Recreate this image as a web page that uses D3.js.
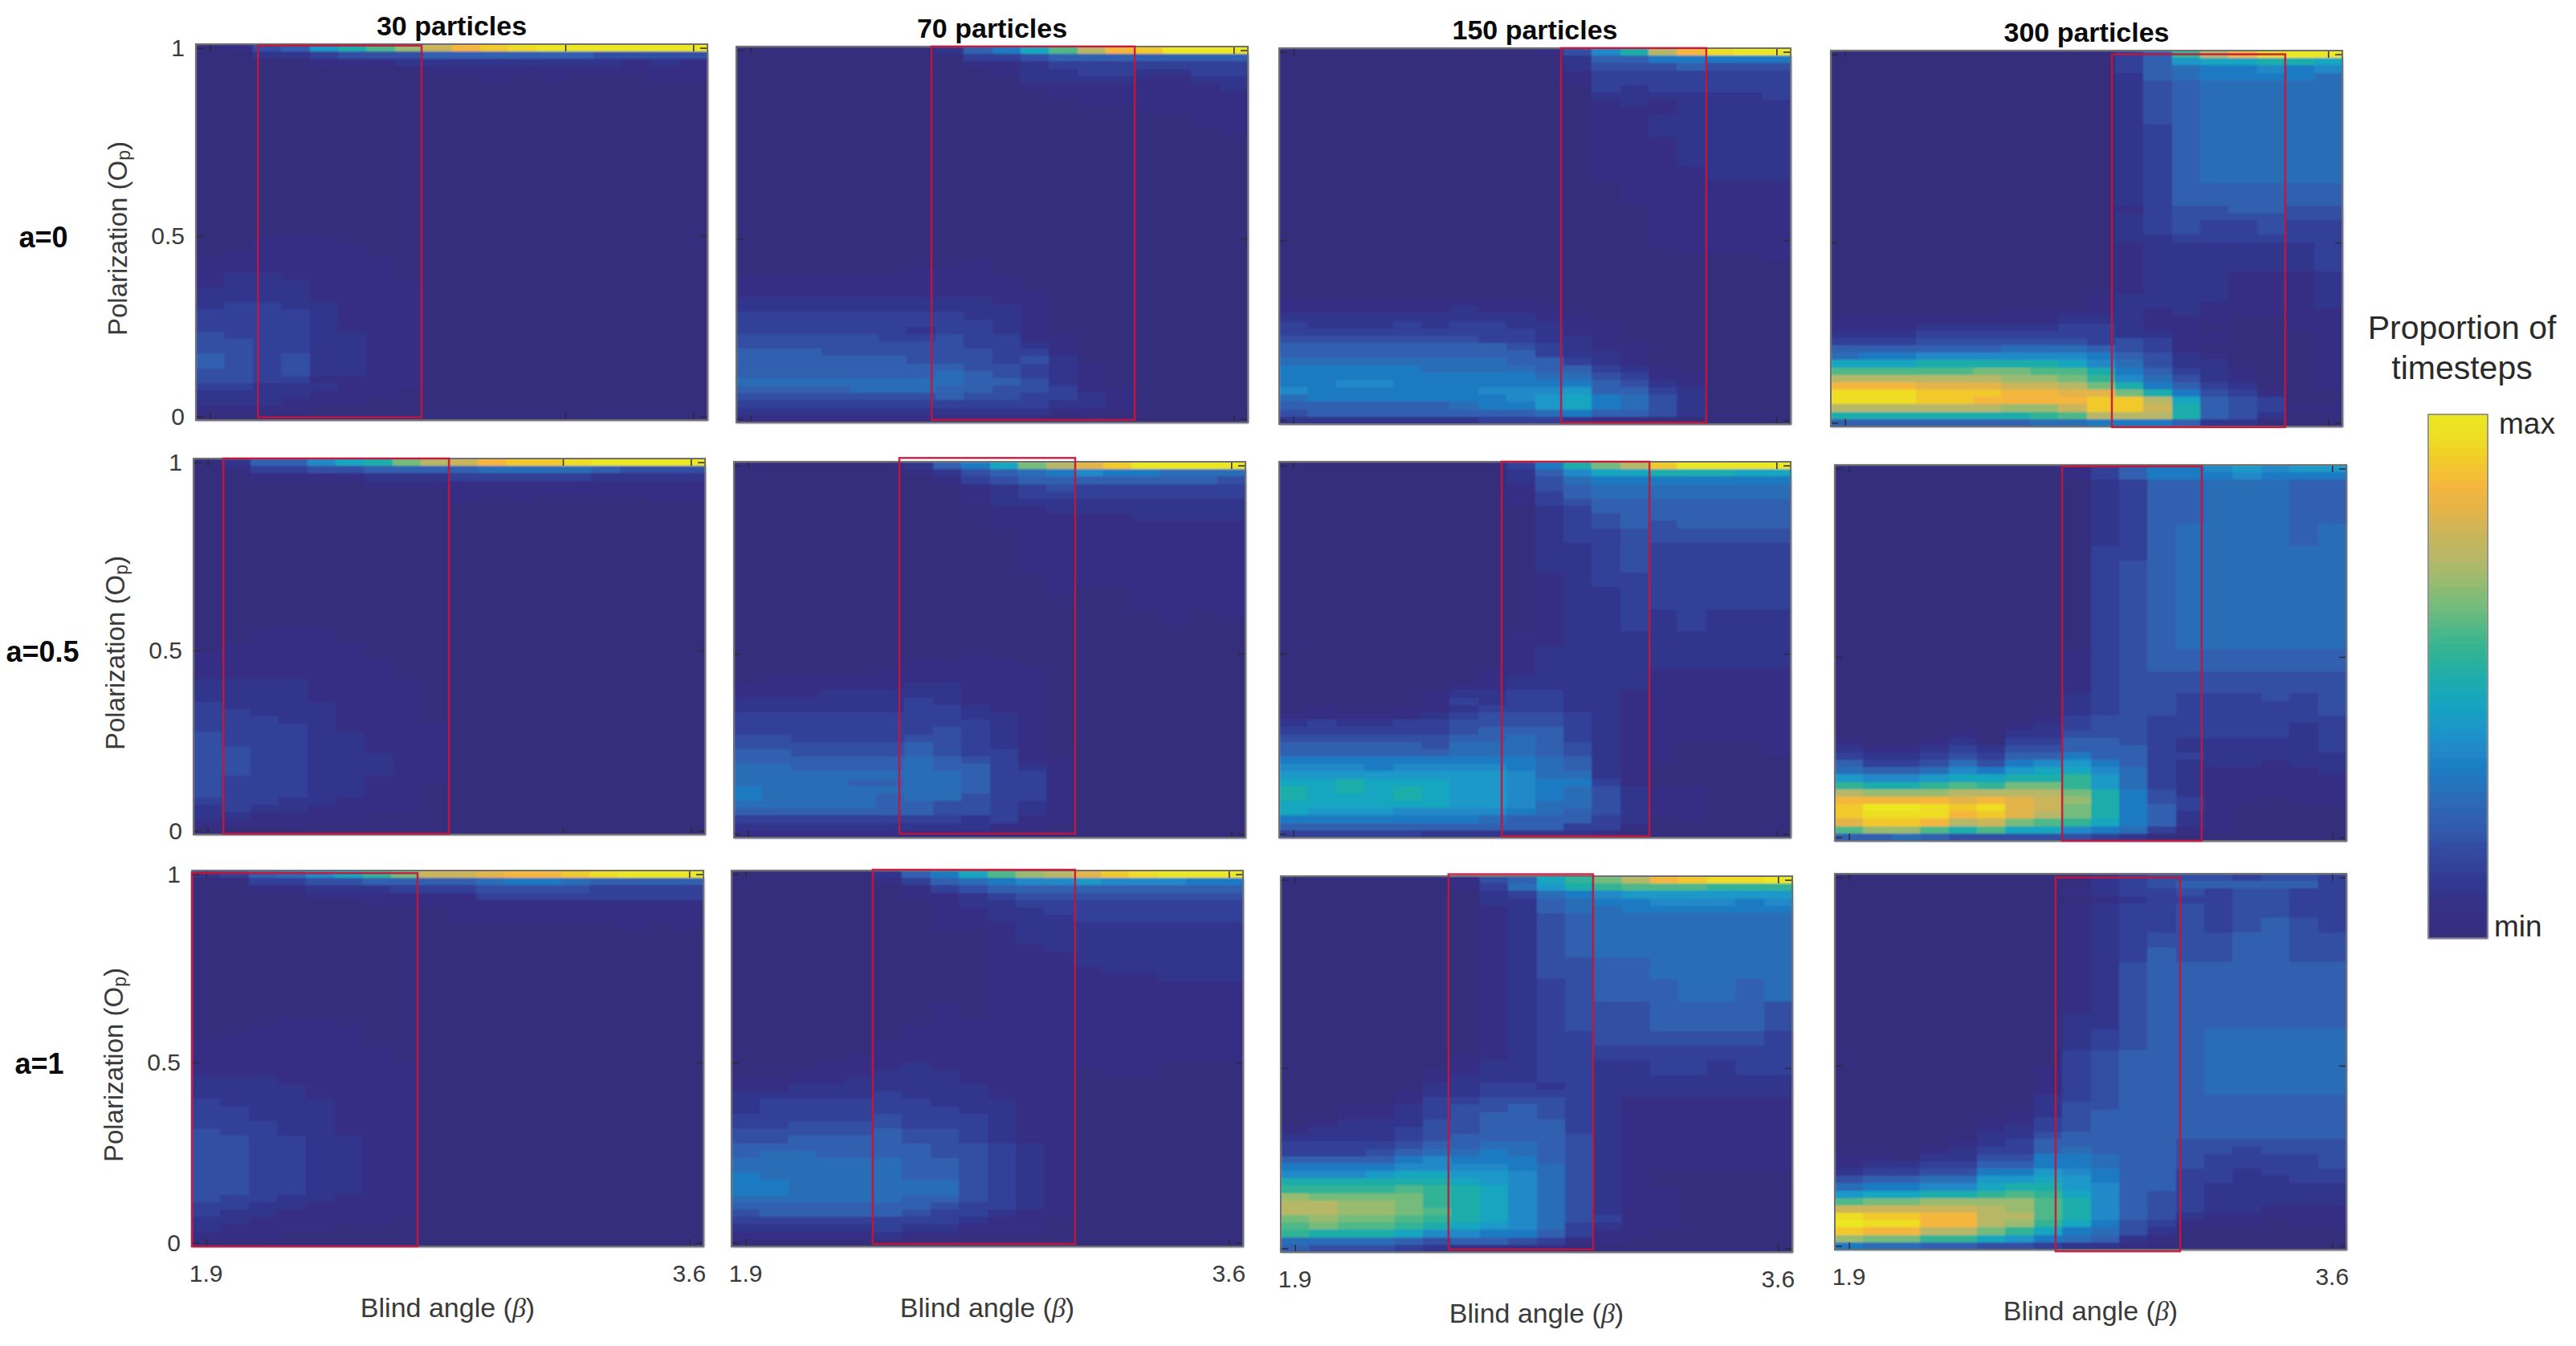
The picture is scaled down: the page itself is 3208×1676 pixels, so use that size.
<!DOCTYPE html>
<html>
<head>
<meta charset="UTF-8">
<title>Polarization heatmaps</title>
<script src="https://d3js.org/d3.v7.min.js"></script>
<style>
html, body { margin: 0; padding: 0; background: #fff; }
svg { display: block; }
text { font-family: "Liberation Sans", Arial, sans-serif; }
</style>
</head>
<body>
<svg id="chart" width="3208" height="1676"></svg>
<script>
// categories
const particleCounts = ["30 particles", "70 particles", "150 particles", "300 particles"];
const alignValues = ["a=0", "a=0.5", "a=1"];
const xTickValues = [1.9, 3.6];
const xExtraTick = [3.15];
const yTickValues = [0, 0.5, 1];

// one string per row of the image, top row (Op=1) first. one character per blind angle column,
// 0..m is the colour level, missing characters are 0, *n repeats the row
const a0_30 = ["01459bdfhjklmmmmmm","002234445555554444","000011122222222121","000000001111111111","000000000010100011","0*21","00111","001111","011111","1111111*2","1221111","12221111","22221111*2","23322111","33332111*3","43332211","44332211*2","54342211*2","44342211","44331111","33222111","2222111","222111","1111","0"];
const a0_70 = ["0000000257adgjkmmm","000000003345555555","000000001123333333","000000000122332233","000000000022221122","000000000011111112","000000000001111111","000000000000111111","000000000000001111","000000000000000011*2","000000000000000001","0*17","000000001","000000111","1111111111*2","11111111111","22222222211","22222222221","33333333221","33333333321","33333323321","444443343311","444444443321","555444444331","555555444342","5555555544321","5555555654321","6666666655421","55556665544311","44444445443321","33333333333221","22222222222110","11111111111"];
const a0_150 = ["000000000148bgjlmm","000000000025577777","000000000024445444","000000000013333333*2","000000000003233333","000000000002222223","000000000001212222","000000000001112222","000000000001122222*3","000000000001112222*4","000000000001111222*2","000000000000111111*3","000000000000011111*6","000000000000001111","000000000000000001","0*5","111111111","1111112111","22222222211","322232332211","333333333211","444444433221","5555555543211","5555555553221","6666666655321","77777666655321","777777777664311","778877777775421","877777788895532","6777777789a7642","5555556779a7642","455555555675542","2222222333211"];
const a0_300 = ["000000000035cgjlmm","0000000000359aabba","000000000035677878","000000000025677776","000000000024566666*6","000000000023566666*8","000000000023555555*3","000000000013445544","000000000023444444","000000000023433433*2","000000000022333333","000000000012222223*4","000000000012221112*3","000000000122221112","000000000122211112","000000111121211111","111111112221110011","111222223321100011","222333333322110001","333444444343110001","555555666543100001","677888888754210001","aaabbbbba864220001","dddddeeddb75321001","ggggggffec86421001","jjjiiihhgeb7532001","lllkkkjjiieb743100","lllkkjjjjkkga54300","ggggggffhkkhb54311","bbbbbbbcdgggb54200","555555566777522000"];

const a05_30 = ["02558abeghjkklmmmm","013344555566665444","001111222333332222","000000111111111111","000000000111111111","000000000101000011","0*17","00111*2","011111","111111","1111111*3","22221111*3","32222111","33222111","33322111","333321111","433322111*2","443322111","443322211*3","433322111","43332211*2","33322111","23221111","221111","1111","0"];
const a05_70 = ["000000257aegikmmmm","000000124567877666","000000013455555554","000000001234333333","000000001233333333","000000001222222222","000000000112222222","000000000111112222","000000000111111111","000000000011111111*6","000000000001111111*2","000000000001001111","000000000000001111*2","000000000000000101","000000000000000100","0*4","000000001","0000001111","00000111111","01111111111","11111122111","11122222111","22222232111","22222233211","33333333221","33333333321","33333334321","44333344321","44444454321","55444454331","555555654311","665555655321","666666665331","666655665331","766666665331","766665664331","666665544321","555555544321","333333332311","22222222211","111111111"];
const a05_150 = ["0000000037begkmmmm","00000000258aabbbaa","000000002467777777","000000001456666666","000000001356666666","000000001345555555","000000000235555555","000000000234555555","000000000234545555","000000000233444444*2","000000000223433333*4","000000000123333333*2","000000000122333333*3","000000000122323222*3","000000001122222222*2","000000001222222222*3","000000011222211111","000000012222211111","000000112222211111","000001223322111111","000001323322111111","010011233322111111","111112344432111111","232233444432111111","333333455532111111","444444556532111111","555554666542110001","555555666542110001","777777777652110000","888788887652100000","999999998662100000","aabaaa998773100000","bababa998764211000","baaaba998764211000","aaaaaa998664211000","a99988887654211000","777777765553201000","555555555533100000","3333322222210"];
const a05_300 = ["000000001357789899","000000001357778777","000000000235566655*6","000000000235666656*3","000000000335666666*2","000000000345666666*7","000000000345666666*5","000000001345555555*3","000000001344444444*3","000000002344333434","000000002344333334*2","000000013443333333","000000123443333323","000010224443333323","100120335543222223","211232445553222223","322343557553322222","533464789753222122","6556879aa863211112","9889aabbc963211111","cbbcdceec963211111","gfffggggeb74211111","jjjjijihfb74311011","kmmlkliheb75310000","kllljkigeb75210000","ikkjghedca75210000","dffdbdaa8763110000","556544444320"];

const a1_30 = ["23568acehhijjklmmm","003344555567765555","001122233344443333","000011111133333333","000000111111111111","000000000111111111*2","000000000000000101","0*12","00011","001111","011111","111111","1111111*2","11111111*2","22211111","22221111*2","32222111","33222111*2","33322111","43322111","44332211*8","43322111","33221111","32211111","2211111","21111","111","0"];
const a1_70 = ["00000257adfgiklmmm","000001356788988877","000000134555555555","000000112344444444","000000012233333333","000000011223333333","000000011222333333","000000011122222222","000000000122222222*2","000000000112222222","000000000111222222*2","000000000111122222","000000000111111222","000000000111111111*3","000000010111111111*2","000000011111111111","000000111111111111*2","000001111111111111*2","000011111111111111","000111211111111000","001112221111011000","111122221111","112222222111","222223222111","233333322211","233333332211","333334333211","334444333211","444445443211","445555443211","555555544321","566555544321","666666554321*2","766666554321","776666664321*2","666666554321","555555543321","455555433211","33333333211","22222322111","11111211","0"];
const a1_150 = ["000000145acegjkllm","0000001369bcdddccc","000000023678999999","000000022567788878","000000012566777777","000000012456666666*6","000000012445566666*3","000000012345556656*3","000000012344455554*4","000000012334444443*2","000000012333333333","000000112333333333","000000122332233233","000001122332233233","000001222332222222","000002233232222222","000012233332222222","000013344432111111","001123445432111111","001123455432111111","012224455532111111","122234455532111111","222234555542111111","333345566542111111","333456676542111111","555578777542111111","777788887642111111","8889aa998642100000","bbbbbba98642100000","ccccdcba8642110000","feeeecba8642110000","ggffecba8642110000","ggffedba8642110000","efeedcba8643110000","deddcba98632110000","cbbba88775311","666654554311","5444321111"];
const a1_300 = ["000000000234443443","000000000234555553","000000001233434433","000000000123334433","000000001233434433*2","000000001233434543*2","000000001234445544*2","000000001235445544*2","000000001245555555*7","000000002245555555*2","000000002345566666*3","000000003455566666*2","000000013455566666*4","000000023455555555","000000024455555555","000000124555555555","000001134555555555","000001234555555555","000002245555555555","000012355555444444","000123356555443444","110224477655433334","122335577655433334","233447798755332333","4556699a9755332233","67788abb9855322222","9aabbcdca854322222","deeffffdb854322222","hhhhhgfdb854322111","lkkjjggdb854211111","mlljjgfca743111011","kjjggeca7642","feecca976521","76655443221"];

const panelRows = [
    [a0_30, a0_70, a0_150, a0_300],
    [a05_30, a05_70, a05_150, a05_300],
    [a1_30, a1_70, a1_150, a1_300]
];

// red outlined region of each panel: blind angle from, blind angle to, Op from, Op to
const redRegions = [
    [[2.068, 2.644, -0.003, 1.006], [2.537, 3.252, -0.003, 1.01], [2.842, 3.353, -0.006, 1.01], [2.839, 3.449, -0.012, 1.0]],
    [[1.955, 2.749, -0.008, 1.01], [2.432, 3.051, 0.001, 1.02], [2.633, 3.153, -0.006, 1.01], [2.65, 3.141, -0.01, 1.006]],
    [[1.85, 2.644, -0.01, 1.003], [2.347, 3.059, -0.003, 1.012], [2.44, 2.949, -0.003, 1.015], [2.627, 3.065, -0.015, 1.0]]
];

// colours of the levels 0..m
const colourStops = ["#342d7c","#362f84","#33358c","#324097","#314fa4","#3060b0","#2b6db7","#1d7ac2","#2189c8","#1c99c8","#16a6bf","#1fadab","#30b396","#4fb888","#75bc7c","#98bb70","#b7b767","#cab55a","#e3b448","#f5b63d","#f2c92c","#eedd24","#ebe823"];

// layout, the panels in the picture are not quite on a grid
const panelW = 637, panelH = 468;
const panelLeft = [[244, 917, 1593, 2280], [241, 914, 1593, 2285], [239, 911, 1595, 2285]];
const panelTop = [[55, 58, 60, 63], [571, 575, 575, 579], [1084, 1084, 1091, 1088]];

const betaValues = d3.range(18).map(i => +(1.9 + i * 0.1).toFixed(1));
const opValues = d3.range(51).map(i => +(1 - i * 0.02).toFixed(2));

const levelCount = colourStops.length - 1;
const colour = d3.scaleLinear()
    .domain(colourStops.map((c, i) => i / levelCount))
    .range(colourStops)
    .interpolate(d3.interpolateRgb);

function expandRows(rows) {
    return rows.flatMap(r => {
        const parts = r.split("*");
        return d3.range(+parts[1] || 1).map(() => parts[0].padEnd(betaValues.length, "0"));
    });
}

const svg = d3.select("#chart");

const x = d3.scaleBand().domain(betaValues).range([0, panelW]);
const y = d3.scaleBand().domain(opValues).range([0, panelH]);
const xLin = d3.scaleLinear().domain([1.9, 3.6]).range([x(1.9) + x.bandwidth() / 2, x(3.6) + x.bandwidth() / 2]);
// the 0.5 tick sits a little below the middle in the picture
const yLin = d3.scaleLinear().domain([0, 0.5, 1]).range([y(0) + y.bandwidth() / 2, panelH / 2 + 5, y(1) + y.bandwidth() / 2]);

const defs = svg.append("defs");
defs.append("filter").attr("id", "soft")
    .attr("x", "-2%").attr("y", "-2%").attr("width", "104%").attr("height", "104%")
    .append("feGaussianBlur").attr("stdDeviation", 0.9);

panelRows.forEach((rowOfPanels, r) => {
    rowOfPanels.forEach((rows, c) => {
        const g = svg.append("g")
            .attr("transform", "translate(" + panelLeft[r][c] + "," + panelTop[r][c] + ")");

        const cells = [];
        expandRows(rows).forEach((s, i) => {
            betaValues.forEach((b, j) => {
                cells.push({ beta: b, op: opValues[i], v: parseInt(s[j], 36) / levelCount });
            });
        });

        g.append("g").attr("filter", "url(#soft)").attr("shape-rendering", "crispEdges")
            .selectAll("rect").data(cells).enter().append("rect")
            .attr("x", d => x(d.beta))
            .attr("y", d => y(d.op))
            .attr("width", x.bandwidth() + 0.5)
            .attr("height", y.bandwidth() + 0.5)
            .attr("fill", d => colour(d.v));

        // ticks point inwards on all four sides
        const tickColour = "#2b2b3a";
        const xTicks = (c === 0 && r < 2) ? xTickValues.concat(xExtraTick) : xTickValues;
        const left = g.append("g").call(d3.axisLeft(yLin).tickValues(yTickValues)
            .tickFormat(c === 0 ? d3.format("") : "").tickSize(-9).tickPadding(14));
        const right = g.append("g").attr("transform", "translate(" + panelW + ",0)")
            .call(d3.axisRight(yLin).tickValues(yTickValues).tickFormat("").tickSize(-9));
        const top = g.append("g").call(d3.axisTop(xLin).tickValues(xTicks).tickFormat("").tickSize(-9));
        const bottom = g.append("g").attr("transform", "translate(0," + panelH + ")")
            .call(d3.axisBottom(xLin).tickValues(xTicks).tickFormat("").tickSize(-9));
        [left, right, top, bottom].forEach(a => {
            a.select(".domain").remove();
            a.selectAll("line").attr("stroke", tickColour).attr("stroke-width", 1.5);
        });
        left.selectAll("text").attr("font-size", 30).attr("fill", "#3a3a3a")
            .attr("font-family", '"Liberation Sans", Arial, sans-serif');

        g.append("rect")
            .attr("width", panelW).attr("height", panelH)
            .attr("fill", "none").attr("stroke", "#6f6f6f").attr("stroke-width", 2);

        const red = redRegions[r][c];
        g.append("rect")
            .attr("x", xLin(red[0])).attr("y", yLin(red[3]))
            .attr("width", xLin(red[1]) - xLin(red[0]))
            .attr("height", yLin(red[2]) - yLin(red[3]))
            .attr("fill", "none").attr("stroke", "#c4163c").attr("stroke-width", 2.5)
            .attr("stroke-opacity", 0.92);

        // only the outer rows and columns carry labels
        if (r === 2) {
            xTickValues.forEach(v => {
                g.append("text").attr("x", xLin(v)).attr("y", panelH + 33)
                    .attr("text-anchor", "middle").attr("dominant-baseline", "central")
                    .attr("font-size", 30).attr("fill", "#3a3a3a").text(v.toFixed(1));
            });
            const xl = g.append("text").attr("x", panelW / 2).attr("y", panelH + 76)
                .attr("text-anchor", "middle").attr("dominant-baseline", "central")
                .attr("font-size", 34).attr("fill", "#3a3a3a").text("Blind angle (");
            xl.append("tspan").attr("font-family", "Liberation Serif").attr("font-style", "italic").text("\u03b2");
            xl.append("tspan").text(")");
        }
        if (r === 0) {
            g.append("text").attr("x", panelW / 2).attr("y", -23)
                .attr("text-anchor", "middle").attr("dominant-baseline", "central")
                .attr("font-size", 34).attr("font-weight", "bold").attr("fill", "#0a0a0a")
                .text(particleCounts[c]);
        }
        if (c === 0) {
            const yl = g.append("text")
                .attr("transform", "translate(-98," + (panelH / 2 + 8) + ") rotate(-90)")
                .attr("text-anchor", "middle").attr("dominant-baseline", "central")
                .attr("font-size", 33).attr("fill", "#3a3a3a").text("Polarization (O");
            yl.append("tspan").attr("font-size", 23).attr("dy", 8).text("p");
            yl.append("tspan").attr("dy", -8).text(")");
            g.append("text").attr("x", -190 + (r === 1 ? 2 : 0)).attr("y", panelH / 2 + 6)
                .attr("text-anchor", "middle").attr("dominant-baseline", "central")
                .attr("font-size", 36).attr("font-weight", "bold").attr("fill", "#0a0a0a")
                .text(alignValues[r]);
        }
    });
});

// colour bar
const barTop = 516, barBottom = 1168, barLeft = 3024, barW = 74;
const barScale = d3.scaleLinear().domain([0, 1]).range([barBottom, barTop]);
const barSteps = d3.range(0, 64).map(i => i / 64);
svg.append("g").attr("filter", "url(#soft)").attr("shape-rendering", "crispEdges")
    .selectAll("rect").data(barSteps).enter().append("rect")
    .attr("x", barLeft).attr("width", barW)
    .attr("y", d => barScale(d + 1 / 64))
    .attr("height", (barBottom - barTop) / 64 + 1)
    .attr("fill", d => colour(d + 1 / 128));
svg.append("rect")
    .attr("x", barLeft).attr("y", barTop).attr("width", barW).attr("height", barBottom - barTop)
    .attr("fill", "none").attr("stroke", "#7c7c7c").attr("stroke-width", 1.5);

svg.append("text").attr("x", 3112).attr("y", barScale(1) + 11)
    .attr("dominant-baseline", "central").attr("font-size", 37).attr("fill", "#2a2a2a").text("max");
svg.append("text").attr("x", 3106).attr("y", barScale(0) - 15)
    .attr("dominant-baseline", "central").attr("font-size", 37).attr("fill", "#2a2a2a").text("min");
["Proportion of", "timesteps"].forEach((t, i) => {
    svg.append("text").attr("x", 3066).attr("y", 408 + i * 50)
        .attr("text-anchor", "middle").attr("dominant-baseline", "central")
        .attr("font-size", 41).attr("fill", "#2a2a2a").text(t);
});
</script>
</body>
</html>
